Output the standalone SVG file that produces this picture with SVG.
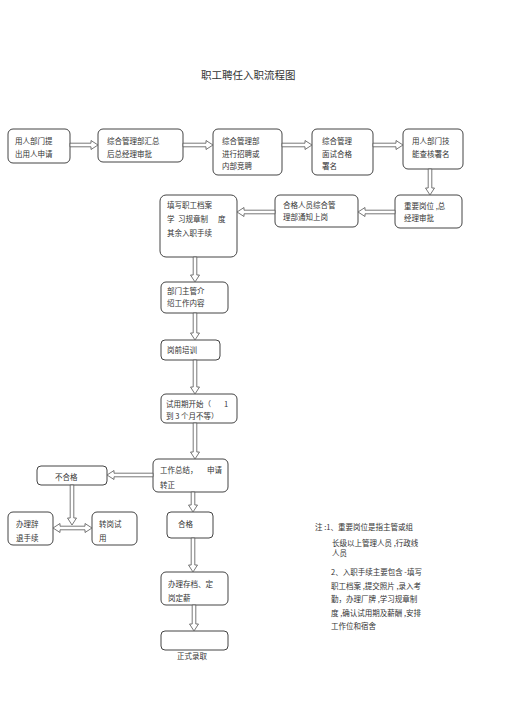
<svg xmlns="http://www.w3.org/2000/svg" width="505" height="714" viewBox="0 0 505 714">
<style>
.b{fill:#fff;stroke:#444;stroke-width:1}
.t{font-family:"Noto Sans CJK SC","Noto Sans",sans-serif;font-size:7.5px;fill:#333}
.a{fill:#fff;stroke:#555;stroke-width:0.8;stroke-linejoin:miter}
</style>
<rect width="505" height="714" fill="#fff"/>
<text class="t" x="201" y="79" style="font-size:10.5px">职工聘任入职流程图</text>
<g id="n1"><rect class="b" x="8" y="129" width="62" height="34" rx="5"/><text class="t" x="15" y="144">用人部门提</text><text class="t" x="15" y="156.5">出用人申请</text></g>
<g id="n2"><rect class="b" x="98" y="129" width="85" height="33" rx="5"/><text class="t" x="107" y="144">综合管理部汇总</text><text class="t" x="107" y="156.5">后总经理审批</text></g>
<g id="n3"><rect class="b" x="213" y="129" width="69" height="46" rx="5"/><text class="t" x="222" y="144">综合管理部</text><text class="t" x="222" y="156.5">进行招聘或</text><text class="t" x="222" y="169">内部竞聘</text></g>
<g id="n4"><rect class="b" x="312" y="129" width="61" height="46" rx="5"/><text class="t" x="322" y="144">综合管理</text><text class="t" x="322" y="156.5">面试合格</text><text class="t" x="322" y="169">署名</text></g>
<g id="n5"><rect class="b" x="403" y="129" width="60" height="40" rx="5"/><text class="t" x="412" y="144">用人部门技</text><text class="t" x="412" y="156.5">能查核署名</text></g>
<g id="n6"><rect class="b" x="395" y="195" width="67" height="33" rx="5"/><text class="t" x="404" y="209" xml:space="preserve">重要岗位 ,总</text><text class="t" x="404" y="221">经理审批</text></g>
<g id="n7"><rect class="b" x="275" y="195" width="83" height="32" rx="5"/><text class="t" x="283" y="208">合格人员综合管</text><text class="t" x="283" y="220">理部通知上岗</text></g>
<g id="n8"><rect class="b" x="160" y="195" width="77" height="62" rx="6"/><text class="t" x="167" y="208">填写职工档案</text><text class="t" x="167" y="222">学<tspan x="178">习规章制</tspan><tspan x="218">度</tspan></text><text class="t" x="167" y="236">其余入职手续</text></g>
<g id="n9"><rect class="b" x="161" y="282" width="67" height="31" rx="5"/><text class="t" x="167" y="294">部门主管介</text><text class="t" x="167" y="306">绍工作内容</text></g>
<g id="n10"><rect class="b" x="161" y="340" width="59" height="20" rx="4"/><text class="t" x="167" y="353">岗前培训</text></g>
<g id="n11"><rect class="b" x="161" y="394" width="76" height="29" rx="5"/><text class="t" x="166" y="407">试用期开始（<tspan x="224">1</tspan></text><text class="t" x="166" y="419">到 3 个月不等）</text></g>
<g id="n12"><rect class="b" x="153" y="459" width="75" height="33" rx="5"/><text class="t" x="160" y="473">工作总结，<tspan x="207">申请</tspan></text><text class="t" x="160" y="488">转正</text></g>
<g id="n13"><rect class="b" x="37" y="466" width="70" height="19" rx="4"/><text class="t" x="55" y="480">不合格</text></g>
<g id="n14"><rect class="b" x="8" y="512" width="45" height="33" rx="5"/><text class="t" x="16" y="527">办理辞</text><text class="t" x="16" y="541">退手续</text></g>
<g id="n15"><rect class="b" x="92" y="512" width="45" height="33" rx="5"/><text class="t" x="99" y="527">转岗试</text><text class="t" x="99" y="541">用</text></g>
<g id="n16"><rect class="b" x="167" y="512" width="46" height="26" rx="4"/><text class="t" x="178" y="527">合格</text></g>
<g id="n17"><rect class="b" x="161" y="572" width="67" height="33" rx="5"/><text class="t" x="168" y="587">办理存档、定</text><text class="t" x="168" y="601">岗定薪</text></g>
<g id="n18"><rect class="b" x="161" y="631" width="67" height="19" rx="4"/><text class="t" x="177" y="659">正式录取</text></g>
<g id="connectors">
<path class="a" d="M70 143.2L91 143.2L91 140.5L98 145L91 149.5L91 146.8L70 146.8Z"/>
<path class="a" d="M183 143.2L206 143.2L206 140.5L213 145L206 149.5L206 146.8L183 146.8Z"/>
<path class="a" d="M282 143.2L305 143.2L305 140.5L312 145L305 149.5L305 146.8L282 146.8Z"/>
<path class="a" d="M373 143.2L396 143.2L396 140.5L403 145L396 149.5L396 146.8L373 146.8Z"/>
<path class="a" d="M428.2 169L428.2 188L425.5 188L430 195L434.5 188L431.8 188L431.8 169Z"/>
<path class="a" d="M395 210.2L365 210.2L365 207.5L358 212L365 216.5L365 213.8L395 213.8Z"/>
<path class="a" d="M275 210.2L244 210.2L244 207.5L237 212L244 216.5L244 213.8L275 213.8Z"/>
<path class="a" d="M193.2 257L193.2 275L190.5 275L195 282L199.5 275L196.8 275L196.8 257Z"/>
<path class="a" d="M193.2 313L193.2 333L190.5 333L195 340L199.5 333L196.8 333L196.8 313Z"/>
<path class="a" d="M193.2 360L193.2 387L190.5 387L195 394L199.5 387L196.8 387L196.8 360Z"/>
<path class="a" d="M193.2 423L193.2 452L190.5 452L195 459L199.5 452L196.8 452L196.8 423Z"/>
<path class="a" d="M153 473.2L114 473.2L114 470.5L107 475L114 479.5L114 476.8L153 476.8Z"/>
<path class="a" d="M70.2 485L70.2 518L67.5 518L72 525L76.5 518L73.8 518L73.8 485Z"/>
<path class="a" d="M53 528L60 523.5L60 526.2L85 526.2L85 523.5L92 528L85 532.5L85 529.8L60 529.8L60 532.5Z"/>
<path class="a" d="M191.2 492L191.2 505L188.5 505L193 512L197.5 505L194.8 505L194.8 492Z"/>
<path class="a" d="M191.2 538L191.2 565L188.5 565L193 572L197.5 565L194.8 565L194.8 538Z"/>
<path class="a" d="M192.2 605L192.2 624L189.5 624L194 631L198.5 624L195.8 624L195.8 605Z"/>
</g>
<g id="note">
<text class="t" x="315" y="530" xml:space="preserve">注 :1、重要岗位是指主管或组</text>
<text class="t" x="332" y="546">长级以上管理人员 ,行政线</text>
<text class="t" x="332" y="556">人员</text>
<text class="t" x="331" y="575">2、入职手续主要包含 -填写</text>
<text class="t" x="331" y="589">职工档案 ,提交照片 ,录入考</text>
<text class="t" x="331" y="602">勤，办理厂牌 ,学习规章制</text>
<text class="t" x="331" y="616">度 ,确认试用期及薪酬 ,安排</text>
<text class="t" x="331" y="629">工作位和宿舍</text>
</g>
</svg>
